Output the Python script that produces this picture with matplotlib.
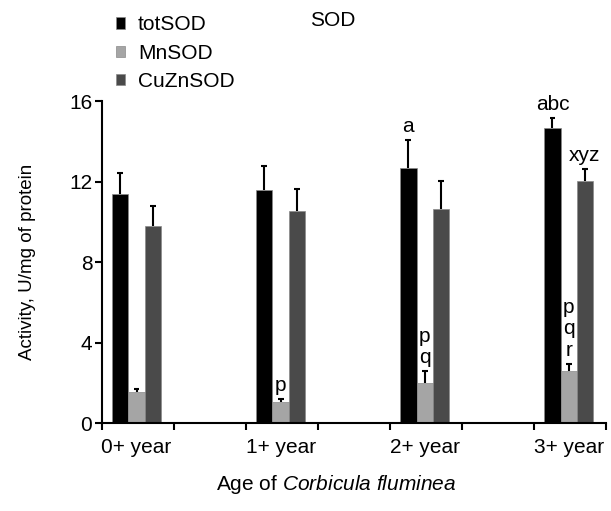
import numpy as np
import matplotlib
matplotlib.use('Agg')
import matplotlib.pyplot as plt

plt.rcParams['font.family'] = ['Liberation Sans', 'DejaVu Sans']
plt.rcParams['mathtext.fontset'] = 'custom'
plt.rcParams['mathtext.rm'] = 'Liberation Sans'
plt.rcParams['mathtext.it'] = 'Liberation Sans:italic'

ages = ['0+ year', '1+ year', '2+ year', '3+ year']
series = ['totSOD', 'MnSOD', 'CuZnSOD']
tot = [11.41, 11.61, 12.69, 14.68]
tot_err = [1.03, 1.18, 1.37, 0.49]
mn = [1.54, 1.04, 2.01, 2.59]
mn_err = [0.17, 0.15, 0.56, 0.36]
cuzn = [9.82, 10.52, 10.63, 12.02]
cuzn_err = [0.96, 1.14, 1.41, 0.59]
colors = ['#000000', '#a5a5a5', '#4a4a4a']

# significance letters: (group, series index, text)
letters = [(2, 0, 'a'), (3, 0, 'abc'), (3, 2, 'xyz'),
           (1, 1, 'p'), (2, 1, 'p\nq'), (3, 1, 'p\nq\nr')]

fs = 15

fig = plt.figure(figsize=(6.11, 5.11), dpi=100)
ax = fig.add_axes([0.167, 0.172, 0.825, 0.630])

x = np.arange(len(ages))
w = 0.113
cap = 0.02
vals = [tot, mn, cuzn]
errs = [tot_err, mn_err, cuzn_err]
for i, (name, v, e, c) in enumerate(zip(series, vals, errs, colors)):
    pos = x + (i - 1) * w
    v = np.array(v)
    top = v + np.array(e)
    ax.bar(pos, v, w, color=c, edgecolor='#8a8a8a', linewidth=0.5, label=name, zorder=2)
    # upper error bars only
    ax.vlines(pos, v, top, color='black', linewidth=1.5, zorder=3)
    ax.hlines(top, pos - cap, pos + cap, color='black', linewidth=1.5, zorder=3)

for g, s, txt in letters:
    top = vals[s][g] + errs[s][g]
    ax.text(x[g] + (s - 1) * w, top + 0.2, txt, ha='center', va='bottom',
            fontsize=fs, linespacing=1.15)

ax.set_xlim(-0.24, 3.26)
ax.set_xticks(np.arange(-0.24, 3.27, 0.5))
ax.set_xticklabels([])
ax.set_xticks(x, minor=True)
ax.set_xticklabels(ages, minor=True, fontsize=fs)
ax.tick_params(axis='x', which='minor', length=0, pad=11)
ax.tick_params(axis='x', which='major', length=5, width=1.5, direction='out')
ax.set_ylim(0, 16)
ax.set_yticks([0, 4, 8, 12, 16])
ax.tick_params(axis='y', length=5, width=1.5, labelsize=fs, pad=2)
for sp in ['top', 'right']:
    ax.spines[sp].set_visible(False)
for sp in ['left', 'bottom']:
    ax.spines[sp].set_linewidth(1.5)

ax.set_ylabel('Activity, U/mg of protein', fontsize=13.5, labelpad=24)
ax.set_xlabel('Age of $\\it{Corbicula\\ fluminea}$', fontsize=fs, labelpad=11, x=0.465)

fig.text(0.545, 0.96, 'SOD', ha='center', va='center', fontsize=fs)
fig.legend(loc='upper left', bbox_to_anchor=(0.19, 0.97), frameon=False,
           fontsize=fs, handlelength=0.45, handleheight=0.45, handletextpad=0.6,
           labelspacing=0.45, borderpad=0, borderaxespad=0)

fig.savefig('out.png', dpi=100)
